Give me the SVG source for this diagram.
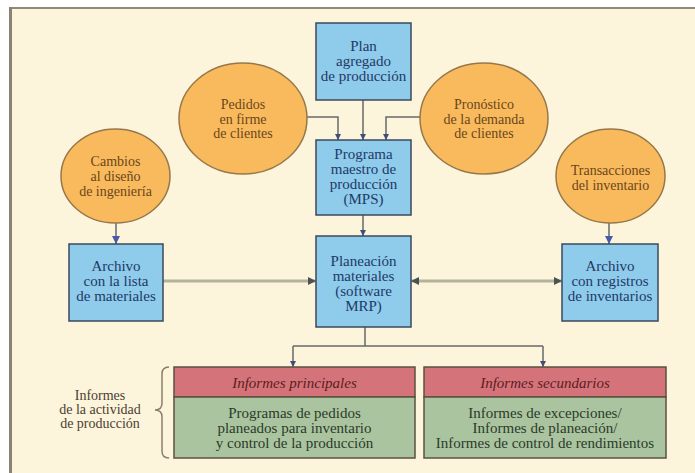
<svg xmlns="http://www.w3.org/2000/svg" width="695" height="473" viewBox="0 0 695 473" font-family="'Liberation Serif', 'DejaVu Serif', serif">
<style>
  text { font-family: "Liberation Serif", "DejaVu Serif", serif; font-size: 15px; text-anchor: middle; }
  .box { fill: #8fcbeb; stroke: #3a4a5c; stroke-width: 1.5; }
  .circ { fill: #f9ba5e; stroke: #967848; stroke-width: 1.5; }
  .bt { fill: #223a66; }
  .ct { fill: #6a4618; font-size: 14px; }
  .red { fill: #d5737a; stroke: #5a5040; stroke-width: 1.5; }
  .green { fill: #aac4a0; stroke: #5a5040; stroke-width: 1.5; }
  .rt { fill: #5a1e22; font-style: italic; }
  .gt { fill: #2c3a2a; }
  .lbl { fill: #4a4030; font-size: 14px; }
  .thin { fill: none; stroke: #666a6a; stroke-width: 1.5; }
  .thick { fill: none; stroke: #b3b39c; stroke-width: 3; }
</style>
<defs>
  <marker id="ah" viewBox="0 0 10 10" refX="10" refY="5" markerWidth="6" markerHeight="6" orient="auto" markerUnits="userSpaceOnUse">
    <path d="M0,0 L10,5 L0,10 Z" fill="#3f4f7a"/>
  </marker>
  <marker id="ahb" viewBox="0 0 10 10" refX="10" refY="5" markerWidth="8" markerHeight="8" orient="auto" markerUnits="userSpaceOnUse">
    <path d="M0,0 L10,5 L0,10 Z" fill="#4a58a8"/>
  </marker>
  <marker id="ahg" viewBox="0 0 10 10" refX="10" refY="5" markerWidth="12" markerHeight="8" orient="auto" markerUnits="userSpaceOnUse">
    <path d="M0,0 L10,5 L0,10 Z" fill="#4a5252"/>
  </marker>
  <marker id="ahgs" viewBox="0 0 10 10" refX="0" refY="5" markerWidth="12" markerHeight="8" orient="auto" markerUnits="userSpaceOnUse">
    <path d="M10,0 L0,5 L10,10 Z" fill="#4a5252"/>
  </marker>
</defs>

<rect x="0" y="0" width="695" height="473" fill="#ffffff"/>
<rect x="10" y="8" width="685" height="465" fill="#fdf4dc"/>
<line x1="10" y1="8" x2="695" y2="8" stroke="#918878" stroke-width="2"/>
<line x1="10.5" y1="7" x2="10.5" y2="473" stroke="#8a8272" stroke-width="3"/>

<g id="connectors">
  <path class="thin" d="M307,117 H338 V140" marker-end="url(#ah)"/>
  <path class="thin" d="M363,100 V140" marker-end="url(#ah)"/>
  <path class="thin" d="M420,117 H386 V140" marker-end="url(#ah)"/>
  <path class="thin" d="M363,215 V236" marker-end="url(#ah)"/>
  <path class="thin" d="M116,223 V244" marker-end="url(#ahb)"/>
  <path class="thin" d="M609,223 V244" marker-end="url(#ahb)"/>
  <path class="thick" d="M163,281 H316" marker-end="url(#ahg)"/>
  <path class="thick" d="M411,281 H562" marker-start="url(#ahgs)" marker-end="url(#ahg)"/>
  <path class="thin" d="M365,327 V346"/>
  <path class="thin" d="M293,346 H543"/>
  <path class="thin" d="M293,346 V367" marker-end="url(#ah)"/>
  <path class="thin" d="M543,346 V367" marker-end="url(#ah)"/>
</g>

<g id="plan">
  <rect class="box" x="316" y="23" width="95" height="77"/>
  <text class="bt" x="363.5" y="51">Plan</text>
  <text class="bt" x="363.5" y="66">agregado</text>
  <text class="bt" x="363.5" y="81">de producción</text>
</g>

<g id="pedidos">
  <ellipse class="circ" cx="243" cy="118.5" rx="64" ry="55.5"/>
  <text class="ct" x="243" y="109">Pedidos</text>
  <text class="ct" x="243" y="123.5">en firme</text>
  <text class="ct" x="243" y="138">de clientes</text>
</g>

<g id="pronostico">
  <ellipse class="circ" cx="484" cy="118.5" rx="64" ry="55.5"/>
  <text class="ct" x="484" y="109">Pronóstico</text>
  <text class="ct" x="484" y="123.5">de la demanda</text>
  <text class="ct" x="484" y="138">de clientes</text>
</g>

<g id="mps">
  <rect class="box" x="316" y="140" width="95" height="75"/>
  <text class="bt" x="363.5" y="159">Programa</text>
  <text class="bt" x="363.5" y="174">maestro de</text>
  <text class="bt" x="363.5" y="189">producción</text>
  <text class="bt" x="363.5" y="204">(MPS)</text>
</g>

<g id="cambios">
  <ellipse class="circ" cx="115.5" cy="176" rx="54.5" ry="47"/>
  <text class="ct" x="115.5" y="166">Cambios</text>
  <text class="ct" x="115.5" y="181">al diseño</text>
  <text class="ct" x="115.5" y="196">de ingeniería</text>
</g>

<g id="transacciones">
  <ellipse class="circ" cx="610.5" cy="176" rx="54.5" ry="47"/>
  <text class="ct" x="610.5" y="175">Transacciones</text>
  <text class="ct" x="610.5" y="190">del inventario</text>
</g>

<g id="lista">
  <rect class="box" x="69" y="244" width="94" height="77"/>
  <text class="bt" x="116" y="271">Archivo</text>
  <text class="bt" x="116" y="286">con la lista</text>
  <text class="bt" x="116" y="301">de materiales</text>
</g>

<g id="mrp">
  <rect class="box" x="316" y="236" width="95" height="91"/>
  <text class="bt" x="363.5" y="266">Planeación</text>
  <text class="bt" x="363.5" y="281">materiales</text>
  <text class="bt" x="363.5" y="296">(software</text>
  <text class="bt" x="363.5" y="311">MRP)</text>
</g>

<g id="registros">
  <rect class="box" x="562" y="244" width="96" height="77"/>
  <text class="bt" x="610" y="271">Archivo</text>
  <text class="bt" x="610" y="286">con registros</text>
  <text class="bt" x="610" y="301">de inventarios</text>
</g>

<g id="principales">
  <rect class="red" x="174" y="367" width="241" height="30"/>
  <rect class="green" x="174" y="397" width="241" height="61"/>
  <text class="rt" x="294.5" y="388">Informes principales</text>
  <text class="gt" x="294.5" y="418">Programas de pedidos</text>
  <text class="gt" x="294.5" y="433">planeados para inventario</text>
  <text class="gt" x="294.5" y="448">y control de la producción</text>
</g>

<g id="secundarios">
  <rect class="red" x="424" y="367" width="242" height="30"/>
  <rect class="green" x="424" y="397" width="242" height="61"/>
  <text class="rt" x="545" y="388">Informes secundarios</text>
  <text class="gt" x="545" y="418">Informes de excepciones/</text>
  <text class="gt" x="545" y="433">Informes de planeación/</text>
  <text class="gt" x="545" y="448">Informes de control de rendimientos</text>
</g>

<g id="actividad">
  <path d="M169,367 Q162,367 162,374 L162,403 Q162,410 155,410 Q162,410 162,417 L162,451 Q162,458 169,458" fill="none" stroke="#8a7f6a" stroke-width="1.5"/>
  <text class="lbl" x="100" y="400">Informes</text>
  <text class="lbl" x="100" y="414">de la actividad</text>
  <text class="lbl" x="100" y="428">de producción</text>
</g>
</svg>
